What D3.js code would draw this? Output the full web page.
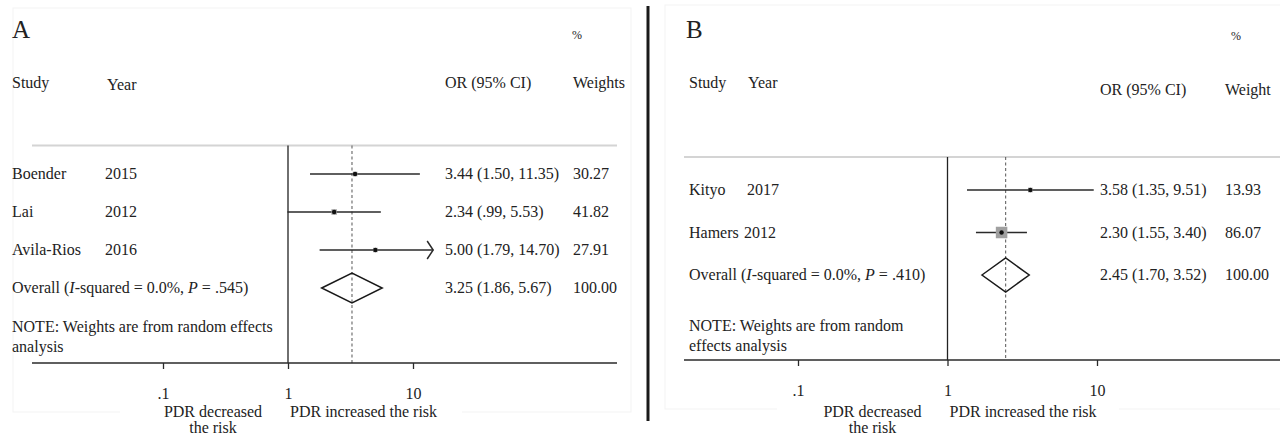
<!DOCTYPE html>
<html>
<head>
<meta charset="utf-8">
<script src="https://cdn.jsdelivr.net/npm/d3@7"></script>
<style>
  html, body { margin: 0; padding: 0; background: #fff; }
  svg { display: block; }
  text { font-family: "Liberation Serif", "Times New Roman", serif; fill: #222; }
</style>
</head>
<body>
<svg id="chart" width="1280" height="437"></svg>
<script>
// ---- Panel A: individual studies ----
const studiesA = ["Boender", "Lai", "Avila-Rios"];
const yearsA = ["2015", "2012", "2016"];
const orA = [3.44, 2.34, 5.00];
const lowA = [1.50, 0.99, 1.79];
const highA = [11.35, 5.53, 14.70];
const weightsA = [30.27, 41.82, 27.91];
// pooled estimate [OR, lower, upper], heterogeneity P
const pooledA = [3.25, 1.86, 5.67];
const pValueA = ".545";

// ---- Panel B: individual studies ----
const studiesB = ["Kityo", "Hamers"];
const yearsB = ["2017", "2012"];
const orB = [3.58, 2.30];
const lowB = [1.35, 1.55];
const highB = [9.51, 3.40];
const weightsB = [13.93, 86.07];
const pooledB = [2.45, 1.70, 3.52];
const pValueB = ".410";

// shared axis ticks
const tickValues = [0.1, 1, 10];
const tickLabels = [".1", "1", "10"];

const svg = d3.select("#chart");
const fmt = v => v.toFixed(2).replace(/^0\./, ".");

function drawPanel(p) {
  const g = svg.append("g");
  const x = d3.scaleLog().domain([0.1, 10]).range(p.tickRange);
  const nRows = p.studies.length + 1;
  const y = d3.scaleLinear().domain([0, nRows - 1]).range(p.rowRange);

  // faint frame of the plot region
  g.append("rect")
    .attr("x", p.frame[0]).attr("y", p.frame[1])
    .attr("width", p.frame[2]).attr("height", p.frame[3])
    .attr("fill", "none").attr("stroke", "#f3f3f3").attr("stroke-width", 1);

  // panel letter and column headers
  g.append("text").attr("x", p.letterX).attr("y", 38)
    .style("font-size", "25px").text(p.letter);
  g.append("text").attr("x", p.pctX).attr("y", p.pctY)
    .style("font-size", "12px").text("%");
  g.append("text").attr("x", p.studyX).attr("y", 88)
    .style("font-size", "16px").text("Study");
  g.append("text").attr("x", p.yearHeadX).attr("y", p.yearHeadY)
    .style("font-size", "16px").text("Year");
  g.append("text").attr("x", p.orX).attr("y", p.orHeadY)
    .style("font-size", "16px").text("OR (95% CI)");
  g.append("text").attr("x", p.wX).attr("y", p.orHeadY)
    .style("font-size", "16px").text(p.weightHead);

  // light separator under the header
  g.append("line")
    .attr("x1", p.axisX[0]).attr("x2", p.axisX[1])
    .attr("y1", p.topY).attr("y2", p.topY)
    .attr("stroke", "#d4d4d4").attr("stroke-width", 2);

  // null line at OR = 1
  g.append("line")
    .attr("x1", x(1)).attr("x2", x(1))
    .attr("y1", p.topY).attr("y2", p.axisY)
    .attr("stroke", "#222").attr("stroke-width", 1.3);

  // pooled estimate reference line
  g.append("line")
    .attr("x1", x(p.pooled[0])).attr("x2", x(p.pooled[0]))
    .attr("y1", p.topY).attr("y2", p.axisY)
    .attr("stroke", "#555").attr("stroke-width", 1)
    .attr("stroke-dasharray", "3,2.5");

  // study rows
  p.studies.forEach((s, i) => {
    const cy = y(i);
    const hi = Math.min(p.high[i], p.limit);
    g.append("line")
      .attr("x1", x(p.low[i])).attr("x2", x(hi))
      .attr("y1", cy).attr("y2", cy)
      .attr("stroke", "#2a2a2a").attr("stroke-width", 1.5);
    if (p.high[i] > p.limit) {
      const tx = x(hi);
      g.append("path")
        .attr("d", `M${tx - 6},${cy - 9}L${tx},${cy}L${tx - 6},${cy + 9}`)
        .attr("fill", "none").attr("stroke", "#2a2a2a").attr("stroke-width", 1.5);
    }
    const side = p.boxScale * Math.sqrt(p.weights[i]);
    g.append("rect")
      .attr("x", x(p.or[i]) - side / 2).attr("y", cy - side / 2)
      .attr("width", side).attr("height", side)
      .attr("fill", "#a0a0a0");
    g.append("circle")
      .attr("cx", x(p.or[i])).attr("cy", cy).attr("r", 2.2)
      .attr("fill", "#111");

    g.append("text").attr("x", p.studyX).attr("y", cy + 5)
      .style("font-size", "16px").text(s);
    g.append("text").attr("x", p.yearX[i]).attr("y", cy + 5)
      .style("font-size", "16px").text(p.years[i]);
    g.append("text").attr("x", p.orX).attr("y", cy + 5)
      .style("font-size", "16px")
      .text(`${fmt(p.or[i])} (${fmt(p.low[i])}, ${fmt(p.high[i])})`);
    g.append("text").attr("x", p.wX).attr("y", cy + 5)
      .style("font-size", "16px").text(fmt(p.weights[i]));
  });

  // pooled diamond
  const oy = y(nRows - 1);
  const [po, pl, ph] = p.pooled;
  g.append("path")
    .attr("d", `M${x(pl)},${oy}L${x(po)},${oy - p.diamondH}L${x(ph)},${oy}L${x(po)},${oy + p.diamondH}Z`)
    .attr("fill", "none").attr("stroke", "#1a1a1a").attr("stroke-width", 1.5);

  const ov = g.append("text").attr("x", p.studyX).attr("y", oy + 5)
    .style("font-size", "16px");
  ov.append("tspan").text("Overall (");
  ov.append("tspan").style("font-style", "italic").text("I");
  ov.append("tspan").text("-squared = 0.0%, ");
  ov.append("tspan").style("font-style", "italic").text("P");
  ov.append("tspan").text(" = " + p.pValue + ")");
  g.append("text").attr("x", p.orX).attr("y", oy + 5)
    .style("font-size", "16px").text(`${fmt(po)} (${fmt(pl)}, ${fmt(ph)})`);
  g.append("text").attr("x", p.wX).attr("y", oy + 5)
    .style("font-size", "16px").text("100.00");

  // note
  p.note.forEach((line, k) => {
    g.append("text").attr("x", p.studyX).attr("y", p.noteY + k * 20)
      .style("font-size", "16px").text(line);
  });

  // x axis
  g.append("line")
    .attr("x1", p.axisX[0]).attr("x2", p.axisX[1])
    .attr("y1", p.axisY).attr("y2", p.axisY)
    .attr("stroke", "#2a2a2a").attr("stroke-width", 1.5);
  const axis = d3.axisBottom(x)
    .tickValues(tickValues)
    .tickFormat((d, i) => tickLabels[i])
    .tickSize(6).tickPadding(19);
  const ag = g.append("g").attr("transform", `translate(0,${p.axisY})`).call(axis);
  ag.select(".domain").remove();
  ag.selectAll(".tick line").attr("stroke", "#2a2a2a").attr("stroke-width", 1.3);
  ag.selectAll(".tick text")
    .style("font-family", "'Liberation Serif', serif")
    .style("font-size", "16px").attr("fill", "#222");

  // direction captions on a white band
  g.append("rect")
    .attr("x", p.captionBand[0]).attr("y", p.axisY + 40)
    .attr("width", p.captionBand[1] - p.captionBand[0]).attr("height", 34)
    .attr("fill", "#fff");
  const decX = x(1) - 75;
  g.append("text").attr("x", decX).attr("y", 417)
    .attr("text-anchor", "middle").style("font-size", "16px").text("PDR decreased");
  g.append("text").attr("x", decX).attr("y", 433)
    .attr("text-anchor", "middle").style("font-size", "16px").text("the risk");
  g.append("text").attr("x", x(1) + 2).attr("y", 417)
    .style("font-size", "16px").text("PDR increased the risk");
}

drawPanel({
  letter: "A", letterX: 12,
  studies: studiesA, years: yearsA, or: orA, low: lowA, high: highA,
  weights: weightsA, pooled: pooledA, pValue: pValueA,
  tickRange: [163, 413], rowRange: [174, 288], topY: 145.5, axisY: 363,
  axisX: [32, 617], frame: [13, 8, 618, 404],
  studyX: 12, yearHeadX: 107, yearHeadY: 90, yearX: [105, 105, 105],
  orX: 445, wX: 573, orHeadY: 88, pctX: 572, pctY: 39, weightHead: "Weights",
  limit: 14.5, boxScale: 0.85, diamondH: 15,
  note: ["NOTE: Weights are from random effects", "analysis"], noteY: 332,
  captionBand: [120, 462]
});

drawPanel({
  letter: "B", letterX: 686,
  studies: studiesB, years: yearsB, or: orB, low: lowB, high: highB,
  weights: weightsB, pooled: pooledB, pValue: pValueB,
  tickRange: [798, 1097], rowRange: [190, 275], topY: 157, axisY: 360,
  axisX: [684, 1280], frame: [665, 5, 640, 404],
  studyX: 689, yearHeadX: 748, yearHeadY: 88, yearX: [747, 744],
  orX: 1100, wX: 1225, orHeadY: 95, pctX: 1231, pctY: 40, weightHead: "Weight",
  limit: 1e9, boxScale: 1.24, diamondH: 17,
  note: ["NOTE: Weights are from random", "effects analysis"], noteY: 331,
  captionBand: [777, 1119]
});

// divider between the two panels
svg.append("line")
  .attr("x1", 648).attr("x2", 648).attr("y1", 6).attr("y2", 421)
  .attr("stroke", "#1a1a1a").attr("stroke-width", 3);
</script>
</body>
</html>
